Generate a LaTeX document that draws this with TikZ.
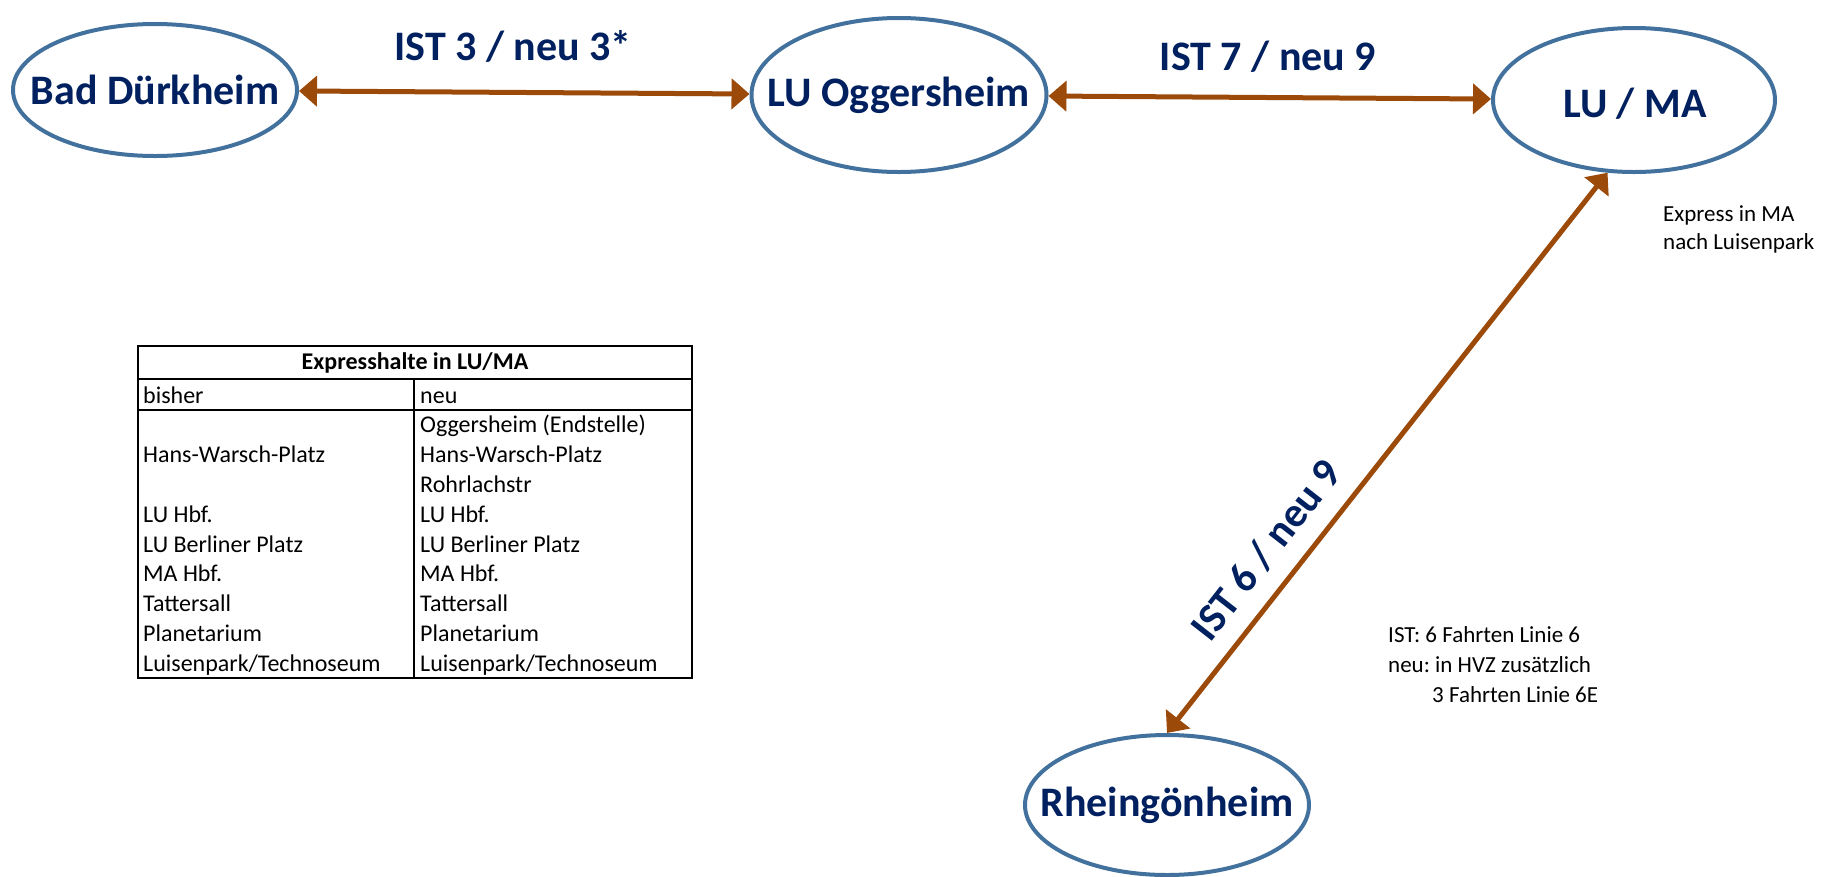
\documentclass[tikz,border=0pt]{standalone}
\usepackage{fontspec}
\setmainfont{Carlito}
\frenchspacing
\usetikzlibrary{shapes.geometric,arrows.meta}
\definecolor{stationline}{RGB}{65,113,156}
\definecolor{stationtext}{RGB}{0,32,96}
\definecolor{linkbrown}{RGB}{156,74,9}
\tikzset{
  station/.style={ellipse,draw=stationline,line width=4pt,inner sep=0pt},
  stationname/.style={text=stationtext,font=\fontsize{42}{50}\selectfont\bfseries},
  link/.style={draw=linkbrown,line width=5pt,
    {Triangle[length=18pt,width=30pt]}-{Triangle[length=18pt,width=30pt]}},
  freq/.style={text=stationtext,font=\fontsize{42}{50}\selectfont\bfseries},
  cell/.style={anchor=base west,inner sep=0pt,font=\fontsize{24}{28}\selectfont},
  note/.style={anchor=west,align=left,inner sep=0pt}
}
\begin{document}
\begin{tikzpicture}[x=1pt,y=-1pt]
\useasboundingbox (0,0) rectangle (1823,876);

% stations
\node[station,minimum width=284pt,minimum height=132pt] (bd) at (155,90) {};
\node[stationname] (bdname) at (bd.center) {Bad Dürkheim};
\node[station,minimum width=295pt,minimum height=154pt] (og) at (899,95) {};
\node[stationname] (ogname) at (og.center) {LU Oggersheim};
\node[station,minimum width=282pt,minimum height=144pt] (luma) at (1634,100) {};
\node[stationname] (lumaname) at (1635,104) {LU / MA};
\node[station,minimum width=284pt,minimum height=140pt] (rh) at (1167,805) {};
\node[stationname] (rhname) at (rh.center) {Rheingönheim};

% links
\draw[link] (bd) -- (og);
\draw[link] (og) -- (luma);
\draw[link] (rh.north) -- (luma.250);
\node[freq,anchor=base] (f1) at (513,60) {IST 3 / neu 3*};
\node[freq,anchor=base] (f2) at (1268,70) {IST 7 / neu 9};
\node[freq,rotate=52] (f3) at (1266,550) {IST 6 / neu 9};

% notes
\node[note,font=\fontsize{23}{28}\selectfont] (expr) at (1663,229) {Express in MA\\nach Luisenpark};
\node[note,font=\fontsize{23}{30}\selectfont] (ist) at (1388,665)
  {IST: 6 Fahrten Linie 6\\neu: in HVZ zusätzlich\\\hspace*{44pt}3 Fahrten Linie 6E};

% table
\draw[line width=2pt] (138,346) rectangle (692,678);
\draw[line width=2pt] (138,379) -- (692,379);
\draw[line width=2.5pt] (138,410) -- (692,410);
\draw[line width=2pt] (414,379) -- (414,678);
\node[font=\fontsize{24}{28}\selectfont\bfseries] (tabtitle) at (415,363) {Expresshalte in LU/MA};
\node[cell] (bisher) at (143,403) {bisher};
\node[cell] (neu) at (420,403) {neu};
\node[cell] (old2) at (143,{410+29.8*1.5+8}) {Hans-Warsch-Platz};
\foreach \t [count=\i from 4] in {LU Hbf.,LU Berliner Platz,MA Hbf.,Tattersall,Planetarium,Luisenpark/Technoseum}
  \node[cell] (old\i) at (143,{410+29.8*(\i-0.5)+8}) {\t};
\foreach \t [count=\i] in {Oggersheim (Endstelle),Hans-Warsch-Platz,Rohrlachstr,LU Hbf.,LU Berliner Platz,MA Hbf.,Tattersall,Planetarium,Luisenpark/Technoseum}
  \node[cell] (new\i) at (420,{410+29.8*(\i-0.5)+8}) {\t};

\end{tikzpicture}
\end{document}
